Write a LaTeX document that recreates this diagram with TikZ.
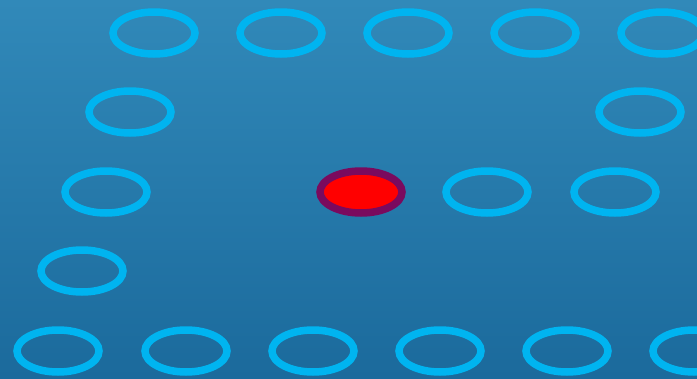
\documentclass[tikz,border=0pt]{standalone}
\usetikzlibrary{shapes.geometric}
\definecolor{bgtop}{HTML}{3189B9}
\definecolor{bgbot}{HTML}{1B6A9C}
\definecolor{ring}{HTML}{00B4F0}
\definecolor{rim}{HTML}{7A0A5E}
\begin{document}
\begin{tikzpicture}[x=1pt,y=-1pt,
  cell/.style={draw=ring,line width=7.5pt,ellipse,minimum width=82pt,minimum height=42pt,inner sep=0pt},
  hot/.style={draw=rim,fill=red,line width=7.5pt,ellipse,minimum width=82pt,minimum height=42pt,inner sep=0pt}]
\useasboundingbox (0,0) rectangle (697,378);
\shade[top color=bgtop,bottom color=bgbot] (0,0) rectangle (697,378);
\clip (0,0) rectangle (697,378);
\node[cell] (a1) at (154,33) {};
\node[cell] (a2) at (281,33) {};
\node[cell] (a3) at (408,33) {};
\node[cell] (a4) at (535,33) {};
\node[cell] (a5) at (662,33) {};
\node[cell] (b1) at (130,112) {};
\node[cell] (b2) at (640,112) {};
\node[cell] (c1) at (106,192) {};
\node[hot] (c2) at (361,192) {};
\node[cell] (c3) at (487,192) {};
\node[cell] (c4) at (615,192) {};
\node[cell] (d1) at (82,271) {};
\node[cell] (e1) at (58,351) {};
\node[cell] (e2) at (186,351) {};
\node[cell] (e3) at (313,351) {};
\node[cell] (e4) at (440,351) {};
\node[cell] (e5) at (567,351) {};
\node[cell] (e6) at (694,351) {};
\end{tikzpicture}
\end{document}
